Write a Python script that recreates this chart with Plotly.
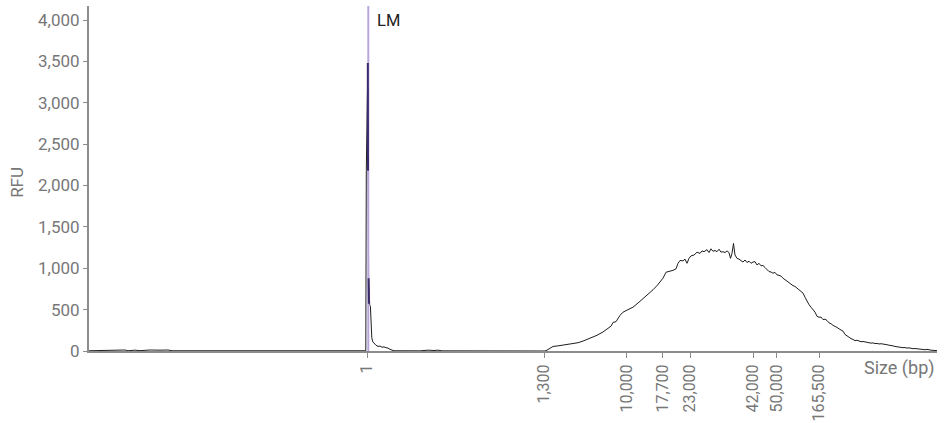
import plotly.graph_objects as go

# ---- data (scan position on the migration axis, RFU) ----
baseline_x = [89, 95, 100, 110, 120, 125, 128, 135, 140, 150, 160, 168, 172, 190, 195, 200, 300, 308, 314, 340, 360, 365.5]
baseline_y = [3, 4, 10, 12, 10, 12, 3, 10, 4, 12, 10, 12, 3, 3, 8, 3, 2, 8, 3, 2, 2, 3]

lm_peak_x = [365.8, 366.3, 367.8, 368.6, 369.0, 369.7, 370.4, 371.0, 371.8, 372.8, 374, 376, 378, 380, 382, 384, 386, 388, 390, 392, 394]
lm_peak_y = [3, 2180, 3480, 880, 600, 560, 540, 300, 160, 110, 90, 70, 55, 60, 45, 50, 40, 35, 20, 10, 3]

gap_x = [420, 428, 434, 438, 442, 500, 540]
gap_y = [2, 10, 6, 10, 2, 2, 2]

smear_x = [545, 547, 550, 553, 558, 563, 568, 573, 578, 583, 587, 592, 597, 603, 608, 611, 613, 616, 620, 623,
           628, 633, 638, 643, 648, 653, 657, 660, 663, 666, 670, 673, 676, 678, 680, 683, 685, 687, 689, 691,
           694, 697, 700, 702, 704, 707, 709, 711, 713, 715, 717, 719, 721, 723, 725, 727, 729, 730.5, 732, 733.5,
           735, 737, 739, 741, 743, 745, 747, 749, 751, 753, 755, 757, 759, 761, 763, 765, 767, 769, 771, 773,
           775, 777, 779, 781, 783, 785, 787, 789, 791, 793, 795, 797, 799, 801, 803, 805, 807, 809, 811, 813,
           815, 817, 819, 821, 823, 825, 827, 829, 831, 833, 835, 837, 839, 841, 843, 845, 847, 849, 851, 853,
           855, 857, 859, 861, 863, 865, 867, 869, 871, 873, 875, 877, 879, 881, 883, 885, 887, 889, 891, 893,
           895, 897, 899, 901, 903, 905, 907, 909, 911, 913, 915, 917, 919, 921, 923, 925, 927, 929, 931, 933,
           935, 937]
smear_y = [0, 10, 30, 55, 62, 70, 82, 85, 100, 120, 140, 160, 190, 230, 270, 300, 345, 355, 430, 469,
           500, 530, 580, 631, 680, 740, 790, 832, 880, 952, 960, 975, 993, 1060, 1094, 1090, 1110, 1060, 1120, 1150,
           1160, 1194, 1180, 1210, 1200, 1225, 1190, 1235, 1205, 1215, 1200, 1230, 1195, 1200, 1190, 1210, 1190, 1120, 1180, 1300,
           1160, 1120, 1110, 1090, 1075, 1100, 1070, 1085, 1060, 1075, 1080, 1040, 1060, 1030, 1033, 1010, 990, 960, 955, 940,
           950, 920, 915, 905, 880, 860, 840, 820, 805, 790, 780, 760, 750, 731, 700, 650, 600, 560, 529, 500,
           470, 420, 408, 410, 380, 385, 369, 340, 330, 310, 300, 285, 268, 255, 240, 200, 180, 167, 150, 140,
           125, 130, 120, 112, 115, 108, 106, 100, 95, 98, 90, 92, 85, 88, 87, 80, 76, 70, 68, 62,
           55, 50, 48, 46, 40, 42, 35, 38, 32, 28, 30, 27, 20, 25, 18, 15, 20, 12, 10, 8,
           6, 4]

# highlighted parts of the lower-marker peak
lm_hl_x = [367.8, 368.0, None, 368.6, 368.9]
lm_hl_y = [3480, 2180, None, 880, 570]

lm_x = 368.3
lm_label = "LM"

size_tick_pos = [367.3, 544.3, 626.7, 662.7, 690, 753.3, 776.7, 819]
size_tick_text = ["1", "1,300", "10,000", "17,700", "23,000", "42,000", "50,000", "165,500"]

y_ticks = [0, 500, 1000, 1500, 2000, 2500, 3000, 3500, 4000]

trace_x = baseline_x + lm_peak_x + gap_x + smear_x
trace_y = baseline_y + lm_peak_y + gap_y + smear_y

FONT = "Roboto, 'Noto Sans', sans-serif"
GREY = "#777777"
AXIS = "#8c8c8c"

fig = go.Figure()
fig.add_trace(go.Scatter(x=trace_x, y=trace_y, mode="lines",
                         line=dict(color="#1e1e1e", width=1), hoverinfo="skip", showlegend=False))
fig.add_trace(go.Scatter(x=[lm_x, lm_x], y=[0, 4170], mode="lines",
                         line=dict(color="#b8a5de", width=2), hoverinfo="skip", showlegend=False))
fig.add_trace(go.Scatter(x=lm_hl_x, y=lm_hl_y, mode="lines",
                         line=dict(color="#3b2b6c", width=2), hoverinfo="skip", showlegend=False))

fig.add_annotation(x=lm_x, y=0.959, xref="x", yref="paper", text=lm_label, showarrow=False,
                   xanchor="left", yanchor="middle", xshift=7,
                   font=dict(family=FONT, size=16.5, color="#222222"))
fig.add_annotation(x=1, y=-0.05, xref="paper", yref="paper", text="Size (bp)", showarrow=False,
                   xanchor="right", yanchor="middle",
                   font=dict(family=FONT, size=18, color=GREY))
fig.add_annotation(x=-0.085, y=0.49, xref="paper", yref="paper", text="RFU", showarrow=False,
                   textangle=-90, xanchor="center", yanchor="middle",
                   font=dict(family=FONT, size=17, color=GREY))

fig.update_layout(
    width=952, height=423,
    margin=dict(l=89, r=15, t=6, b=72, autoexpand=False),
    paper_bgcolor="white", plot_bgcolor="white",
    font=dict(family=FONT, size=17, color=GREY),
    xaxis=dict(range=[89, 937], tickmode="array", tickvals=size_tick_pos, ticktext=size_tick_text,
               tickangle=-90, ticks="outside", ticklen=5, tickcolor=AXIS, tickwidth=1,
               showline=True, linecolor=AXIS, linewidth=2, showgrid=False, zeroline=False,
               automargin=False,
               tickfont=dict(family=FONT, size=16, color=GREY), fixedrange=True),
    yaxis=dict(range=[0, 4170], tickmode="array", tickvals=y_ticks, tickformat=",",
               ticks="outside", ticklen=4, tickcolor=AXIS, tickwidth=1,
               showline=True, linecolor=AXIS, linewidth=2, showgrid=False, zeroline=False,
               automargin=False,
               tickfont=dict(family=FONT, size=17, color=GREY), fixedrange=True),
)

fig.write_html("out.html")
